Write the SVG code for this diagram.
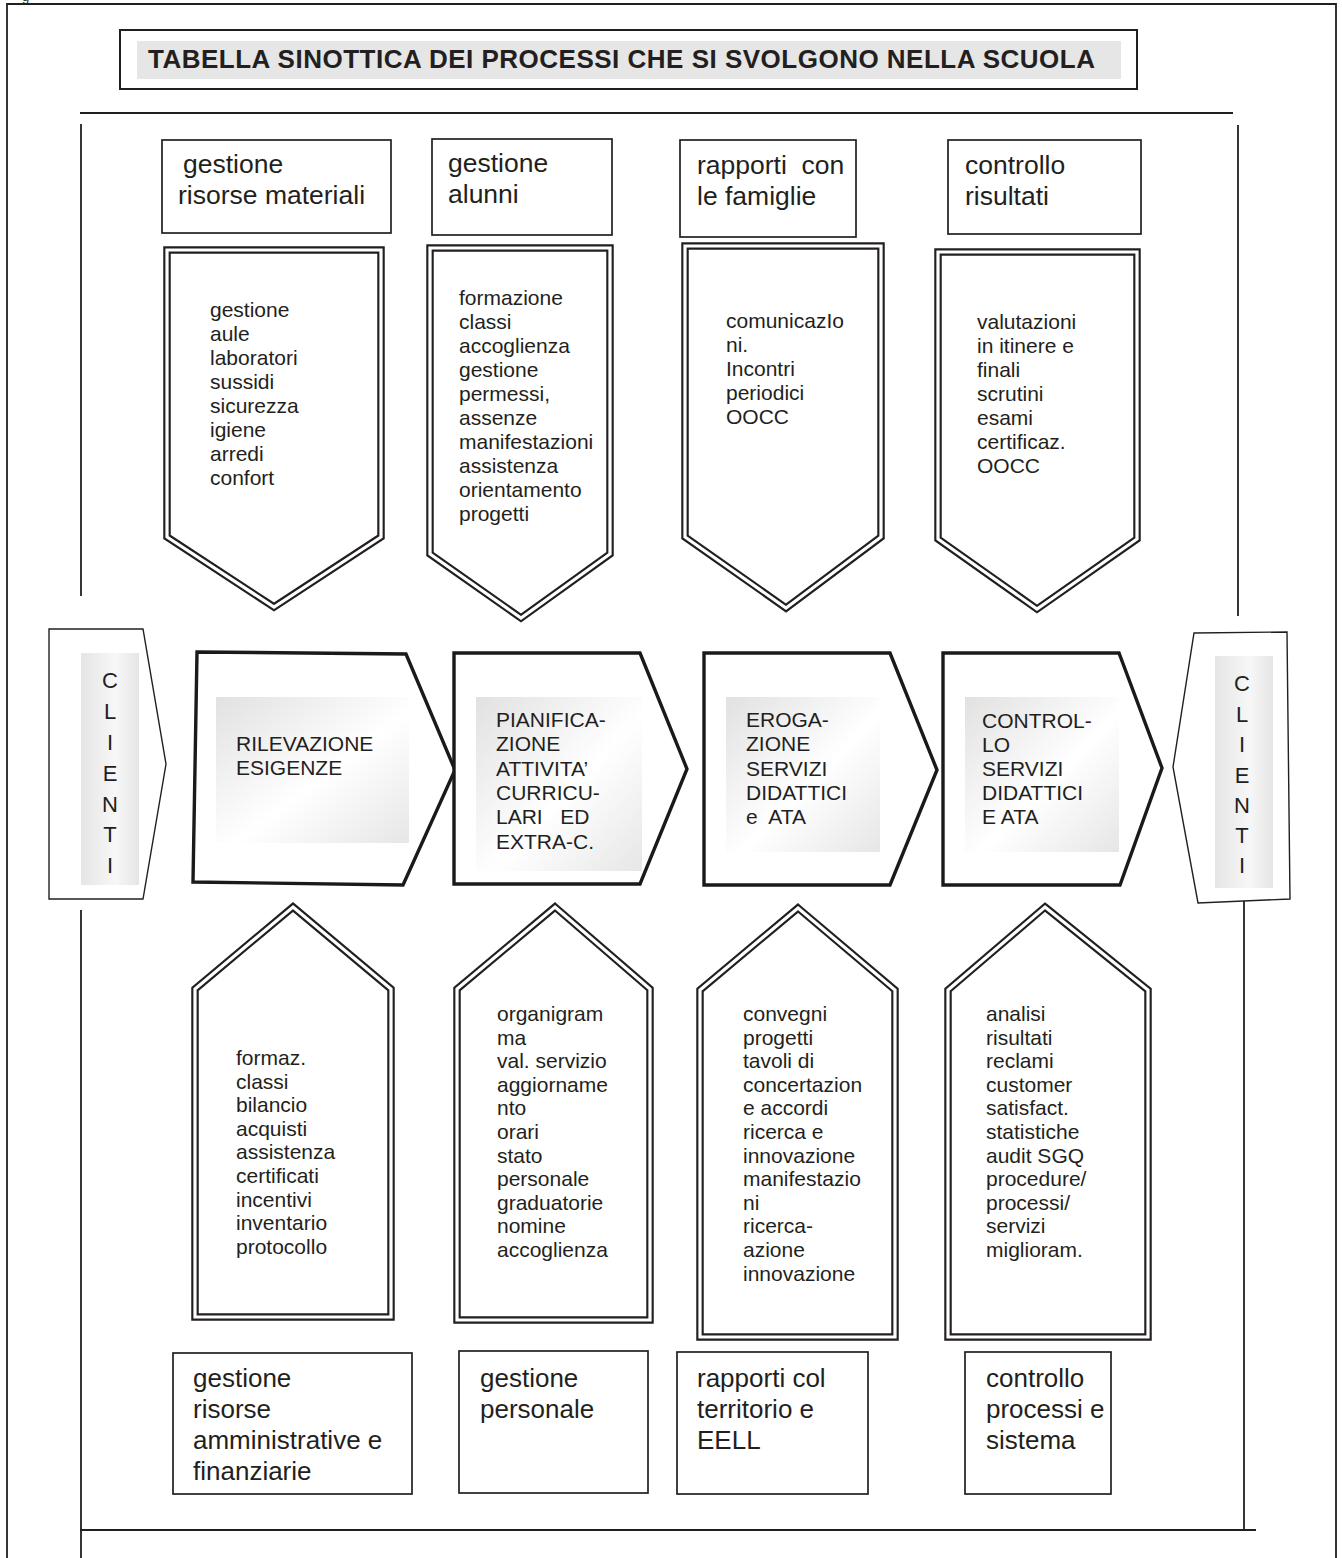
<svg xmlns="http://www.w3.org/2000/svg" width="1342" height="1558" viewBox="0 0 1342 1558">
  <style>
    text { font-family: "Liberation Sans", Arial, sans-serif; fill: #231f20; }
    .title { font-size: 26px; font-weight: bold; }
    .lbl { font-size: 26.5px; }
    .lbl2 { font-size: 26px; }
    .list { font-size: 21px; }
    .step { font-size: 21px; }
    .cli { font-size: 22px; text-anchor: middle; }
    .box { fill: #fff; stroke: #231f20; stroke-width: 1.7; }
    .dbl-a { fill: #fff; stroke: #231f20; stroke-width: 7.5; stroke-linejoin: miter; }
    .dbl-b { fill: none; stroke: #fff; stroke-width: 3.2; stroke-linejoin: miter; }
    .step-shape { fill: #fff; stroke: #1a1a1a; stroke-width: 3.4; stroke-linejoin: miter; }
    .cli-shape { fill: #fff; stroke: #231f20; stroke-width: 1.4; }
    .rule { stroke: #231f20; stroke-width: 1.8; fill: none; }
  </style>
  <defs>
    <linearGradient id="gStep" x1="0" y1="0" x2="1" y2="1">
      <stop offset="0" stop-color="#e1e1e1"/>
      <stop offset="0.55" stop-color="#ffffff"/>
      <stop offset="1" stop-color="#e6e6e6"/>
    </linearGradient>
    <linearGradient id="gCli" x1="0" y1="0" x2="1" y2="0">
      <stop offset="0" stop-color="#e5e5e5"/>
      <stop offset="0.6" stop-color="#f7f7f7"/>
      <stop offset="1" stop-color="#e5e5e5"/>
    </linearGradient>
  </defs>

  <rect width="1342" height="1558" fill="#fff"/>

  <!-- page frame and ruling lines -->
  <g id="frame">
    <text x="22" y="1" style="font-size:13px">g</text>
    <path class="rule" d="M7 1562 V4 H1336 V1562" stroke-width="2.2"/>
    <line class="rule" x1="80" y1="113" x2="1233" y2="113"/>
    <line class="rule" x1="81" y1="124" x2="81" y2="596"/>
    <line class="rule" x1="81" y1="910" x2="81" y2="1558"/>
    <line class="rule" x1="1238" y1="125" x2="1238" y2="616"/>
    <line class="rule" x1="1244" y1="860" x2="1244" y2="1530"/>
    <line class="rule" x1="80" y1="1530" x2="1256" y2="1530"/>
  </g>

  <!-- title -->
  <g id="title">
    <rect x="120" y="30" width="1017" height="59" fill="#fff" stroke="#231f20" stroke-width="2"/>
    <rect x="137" y="41" width="984" height="38" fill="#e6e6e6"/>
    <text class="title" x="148" y="68" textLength="947" lengthAdjust="spacing">TABELLA SINOTTICA DEI PROCESSI CHE SI SVOLGONO NELLA SCUOLA</text>
  </g>

  <!-- top labels -->
  <g id="top-risorse-materiali">
    <rect class="box" x="162" y="140" width="229" height="93"/>
    <text class="lbl" x="183" y="173">gestione</text>
    <text class="lbl" x="178" y="204">risorse materiali</text>
  </g>
  <g id="top-alunni">
    <rect class="box" x="432" y="139" width="180" height="96"/>
    <text class="lbl" x="448" y="172">gestione</text>
    <text class="lbl" x="448" y="203">alunni</text>
  </g>
  <g id="top-famiglie">
    <rect class="box" x="680" y="140" width="176" height="97"/>
    <text class="lbl" x="697" y="174" xml:space="preserve">rapporti  con</text>
    <text class="lbl" x="697" y="205">le famiglie</text>
  </g>
  <g id="top-risultati">
    <rect class="box" x="948" y="140" width="193" height="94"/>
    <text class="lbl" x="965" y="174">controllo</text>
    <text class="lbl" x="965" y="205">risultati</text>
  </g>

  <!-- downward double-line arrows -->
  <g id="down-1">
    <polygon class="dbl-a" points="167,250 381,250 381,537 274,607 167,537"/>
    <polygon class="dbl-b" points="167,250 381,250 381,537 274,607 167,537"/>
    <text class="list" x="210" y="317">
      <tspan x="210">gestione</tspan><tspan x="210" dy="24">aule</tspan><tspan x="210" dy="24">laboratori</tspan><tspan x="210" dy="24">sussidi</tspan><tspan x="210" dy="24">sicurezza</tspan><tspan x="210" dy="24">igiene</tspan><tspan x="210" dy="24">arredi</tspan><tspan x="210" dy="24">confort</tspan>
    </text>
  </g>
  <g id="down-2">
    <polygon class="dbl-a" points="430,248 610,248 610,554 521,618 430,554"/>
    <polygon class="dbl-b" points="430,248 610,248 610,554 521,618 430,554"/>
    <text class="list" x="459" y="305">
      <tspan x="459">formazione</tspan><tspan x="459" dy="24">classi</tspan><tspan x="459" dy="24">accoglienza</tspan><tspan x="459" dy="24">gestione</tspan><tspan x="459" dy="24">permessi,</tspan><tspan x="459" dy="24">assenze</tspan><tspan x="459" dy="24">manifestazioni</tspan><tspan x="459" dy="24">assistenza</tspan><tspan x="459" dy="24">orientamento</tspan><tspan x="459" dy="24">progetti</tspan>
    </text>
  </g>
  <g id="down-3">
    <polygon class="dbl-a" points="685,246 881,246 881,537 786,608 685,537"/>
    <polygon class="dbl-b" points="685,246 881,246 881,537 786,608 685,537"/>
    <text class="list" x="726" y="328">
      <tspan x="726">comunicazIo</tspan><tspan x="726" dy="24">ni.</tspan><tspan x="726" dy="24">Incontri</tspan><tspan x="726" dy="24">periodici</tspan><tspan x="726" dy="24">OOCC</tspan>
    </text>
  </g>
  <g id="down-4">
    <polygon class="dbl-a" points="938,252 1137,252 1137,539 1037,609 938,539"/>
    <polygon class="dbl-b" points="938,252 1137,252 1137,539 1037,609 938,539"/>
    <text class="list" x="977" y="329">
      <tspan x="977">valutazioni</tspan><tspan x="977" dy="24">in itinere e</tspan><tspan x="977" dy="24">finali</tspan><tspan x="977" dy="24">scrutini</tspan><tspan x="977" dy="24">esami</tspan><tspan x="977" dy="24">certificaz.</tspan><tspan x="977" dy="24">OOCC</tspan>
    </text>
  </g>

  <!-- central process chain -->
  <g id="clienti-in">
    <polygon class="cli-shape" points="49,629 143,629 166,764 143,899 49,899"/>
    <rect x="81" y="653" width="58" height="232" fill="url(#gCli)"/>
    <text class="cli" x="110" y="688">C</text>
    <text class="cli" x="110" y="719">L</text>
    <text class="cli" x="110" y="750">I</text>
    <text class="cli" x="110" y="781">E</text>
    <text class="cli" x="110" y="812">N</text>
    <text class="cli" x="110" y="842">T</text>
    <text class="cli" x="110" y="873">I</text>
  </g>
  <g id="step-rilevazione">
    <polygon class="step-shape" points="197,652 406,654 455,770 403,885 193,882"/>
    <rect x="216" y="697" width="193" height="146" fill="url(#gStep)"/>
    <text class="step" x="236" y="751">RILEVAZIONE</text>
    <text class="step" x="236" y="775">ESIGENZE</text>
  </g>
  <g id="step-pianificazione">
    <polygon class="step-shape" points="454,653 640,653 687,769 640,884 454,884"/>
    <rect x="476" y="697" width="166" height="174" fill="url(#gStep)"/>
    <text class="step" x="496" y="727">
      <tspan x="496">PIANIFICA-</tspan><tspan x="496" dy="24.3">ZIONE</tspan><tspan x="496" dy="24.3">ATTIVITA’</tspan><tspan x="496" dy="24.3">CURRICU-</tspan><tspan x="496" dy="24.3" xml:space="preserve">LARI   ED</tspan><tspan x="496" dy="24.3">EXTRA-C.</tspan>
    </text>
  </g>
  <g id="step-erogazione">
    <polygon class="step-shape" points="704,653 890,653 937,770 890,885 704,885"/>
    <rect x="726" y="697" width="154" height="155" fill="url(#gStep)"/>
    <text class="step" x="746" y="727">
      <tspan x="746">EROGA-</tspan><tspan x="746" dy="24.3">ZIONE</tspan><tspan x="746" dy="24.3">SERVIZI</tspan><tspan x="746" dy="24.3">DIDATTICI</tspan><tspan x="746" dy="24.3" xml:space="preserve">e  ATA</tspan>
    </text>
  </g>
  <g id="step-controllo">
    <polygon class="step-shape" points="943,653 1119,653 1162,768 1120,885 943,885"/>
    <rect x="965" y="697" width="154" height="155" fill="url(#gStep)"/>
    <text class="step" x="982" y="728">
      <tspan x="982">CONTROL-</tspan><tspan x="982" dy="24">LO</tspan><tspan x="982" dy="24">SERVIZI</tspan><tspan x="982" dy="24">DIDATTICI</tspan><tspan x="982" dy="24">E ATA</tspan>
    </text>
  </g>
  <g id="clienti-out">
    <polygon class="cli-shape" points="1194,633 1287,632 1290,899 1198,903 1173,767"/>
    <rect x="1215" y="656" width="58" height="232" fill="url(#gCli)"/>
    <text class="cli" x="1242" y="691">C</text>
    <text class="cli" x="1242" y="722">L</text>
    <text class="cli" x="1242" y="752">I</text>
    <text class="cli" x="1242" y="783">E</text>
    <text class="cli" x="1242" y="813">N</text>
    <text class="cli" x="1242" y="843">T</text>
    <text class="cli" x="1242" y="873">I</text>
  </g>

  <!-- upward double-line arrows -->
  <g id="up-1">
    <polygon class="dbl-a" points="293,907 391,989 391,1317 195,1317 195,989"/>
    <polygon class="dbl-b" points="293,907 391,989 391,1317 195,1317 195,989"/>
    <text class="list" x="236" y="1065">
      <tspan x="236">formaz.</tspan><tspan x="236" dy="23.6">classi</tspan><tspan x="236" dy="23.6">bilancio</tspan><tspan x="236" dy="23.6">acquisti</tspan><tspan x="236" dy="23.6">assistenza</tspan><tspan x="236" dy="23.6">certificati</tspan><tspan x="236" dy="23.6">incentivi</tspan><tspan x="236" dy="23.6">inventario</tspan><tspan x="236" dy="23.6">protocollo</tspan>
    </text>
  </g>
  <g id="up-2">
    <polygon class="dbl-a" points="555,907 650,989 650,1320 457,1320 457,989"/>
    <polygon class="dbl-b" points="555,907 650,989 650,1320 457,1320 457,989"/>
    <text class="list" x="497" y="1021">
      <tspan x="497">organigram</tspan><tspan x="497" dy="23.6">ma</tspan><tspan x="497" dy="23.6">val. servizio</tspan><tspan x="497" dy="23.6">aggiorname</tspan><tspan x="497" dy="23.6">nto</tspan><tspan x="497" dy="23.6">orari</tspan><tspan x="497" dy="23.6">stato</tspan><tspan x="497" dy="23.6">personale</tspan><tspan x="497" dy="23.6">graduatorie</tspan><tspan x="497" dy="23.6">nomine</tspan><tspan x="497" dy="23.6">accoglienza</tspan>
    </text>
  </g>
  <g id="up-3">
    <polygon class="dbl-a" points="798,908 895,990 895,1337 700,1337 700,990"/>
    <polygon class="dbl-b" points="798,908 895,990 895,1337 700,1337 700,990"/>
    <text class="list" x="743" y="1021">
      <tspan x="743">convegni</tspan><tspan x="743" dy="23.6">progetti</tspan><tspan x="743" dy="23.6">tavoli di</tspan><tspan x="743" dy="23.6">concertazion</tspan><tspan x="743" dy="23.6">e accordi</tspan><tspan x="743" dy="23.6">ricerca e</tspan><tspan x="743" dy="23.6">innovazione</tspan><tspan x="743" dy="23.6">manifestazio</tspan><tspan x="743" dy="23.6">ni</tspan><tspan x="743" dy="23.6">ricerca-</tspan><tspan x="743" dy="23.6">azione</tspan><tspan x="743" dy="23.6">innovazione</tspan>
    </text>
  </g>
  <g id="up-4">
    <polygon class="dbl-a" points="1045,907 1148,990 1148,1337 948,1337 948,990"/>
    <polygon class="dbl-b" points="1045,907 1148,990 1148,1337 948,1337 948,990"/>
    <text class="list" x="986" y="1021">
      <tspan x="986">analisi</tspan><tspan x="986" dy="23.6">risultati</tspan><tspan x="986" dy="23.6">reclami</tspan><tspan x="986" dy="23.6">customer</tspan><tspan x="986" dy="23.6">satisfact.</tspan><tspan x="986" dy="23.6">statistiche</tspan><tspan x="986" dy="23.6">audit SGQ</tspan><tspan x="986" dy="23.6">procedure/</tspan><tspan x="986" dy="23.6">processi/</tspan><tspan x="986" dy="23.6">servizi</tspan><tspan x="986" dy="23.6">miglioram.</tspan>
    </text>
  </g>

  <!-- bottom labels -->
  <g id="bottom-amministrative">
    <rect class="box" x="173" y="1353" width="239" height="141"/>
    <text class="lbl2" x="193" y="1387">
      <tspan x="193">gestione</tspan><tspan x="193" dy="31">risorse</tspan><tspan x="193" dy="31">amministrative e</tspan><tspan x="193" dy="31">finanziarie</tspan>
    </text>
  </g>
  <g id="bottom-personale">
    <rect class="box" x="459" y="1351" width="189" height="142"/>
    <text class="lbl2" x="480" y="1387">
      <tspan x="480">gestione</tspan><tspan x="480" dy="31">personale</tspan>
    </text>
  </g>
  <g id="bottom-territorio">
    <rect class="box" x="677" y="1352" width="191" height="142"/>
    <text class="lbl2" x="697" y="1387">
      <tspan x="697">rapporti col</tspan><tspan x="697" dy="31">territorio e</tspan><tspan x="697" dy="31">EELL</tspan>
    </text>
  </g>
  <g id="bottom-sistema">
    <rect class="box" x="965" y="1352" width="146" height="142"/>
    <text class="lbl2" x="986" y="1387">
      <tspan x="986">controllo</tspan><tspan x="986" dy="31">processi e</tspan><tspan x="986" dy="31">sistema</tspan>
    </text>
  </g>
</svg>
